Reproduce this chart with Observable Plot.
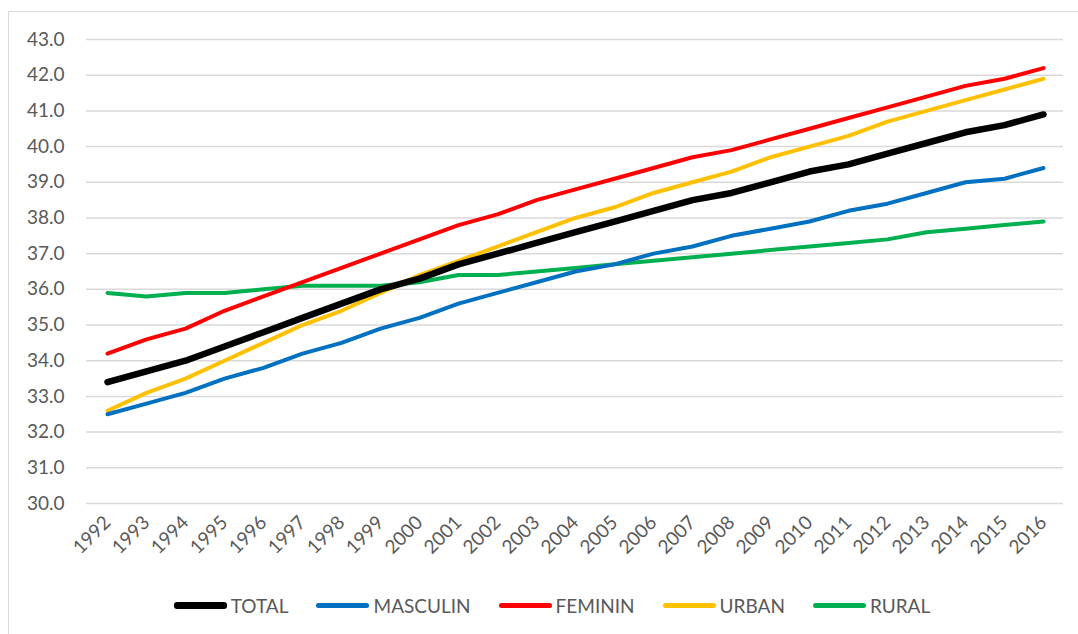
<!DOCTYPE html>
<html>
<head>
<meta charset="utf-8">
<script src="https://cdn.jsdelivr.net/npm/d3@7"></script>
<script src="https://cdn.jsdelivr.net/npm/@observablehq/plot@0.6"></script>
<style>
  html, body { margin: 0; padding: 0; background: #fff; }
  #wrap { position: relative; width: 1078px; height: 634px; overflow: hidden; font-family: Lato, "Open Sans", sans-serif; }
  #frame { position: absolute; left: 8px; top: 11px; width: 1200px; height: 800px; border-left: 1px solid #d9d9d9; border-top: 1px solid #d9d9d9; }
  #chart { position: absolute; left: 0; top: 0; }
  #legend { position: absolute; left: 26px; top: 593px; width: 1052px; height: 24px; display: flex; justify-content: center; align-items: center; font-size: 19px; color: #595959; }
  .item { display: flex; align-items: center; margin: 0 14px; }
  .sw { width: 53px; border-radius: 3px; margin-right: 4px; }
</style>
</head>
<body>
<div id="wrap">
  <div id="frame"></div>
  <div id="chart"></div>
  <div id="legend"></div>
</div>
<script>
const years = ["1992","1993","1994","1995","1996","1997","1998","1999","2000","2001","2002","2003","2004","2005","2006","2007","2008","2009","2010","2011","2012","2013","2014","2015","2016"];
const seriesNames = ["TOTAL","MASCULIN","FEMININ","URBAN","RURAL"];
const seriesColors = ["#000000","#0070c0","#ff0000","#ffc000","#00b050"];
const seriesWidths = [6.5, 4, 4, 4, 4];
const total    = [33.4,33.7,34.0,34.4,34.8,35.2,35.6,36.0,36.3,36.7,37.0,37.3,37.6,37.9,38.2,38.5,38.7,39.0,39.3,39.5,39.8,40.1,40.4,40.6,40.9];
const masculin = [32.5,32.8,33.1,33.5,33.8,34.2,34.5,34.9,35.2,35.6,35.9,36.2,36.5,36.7,37.0,37.2,37.5,37.7,37.9,38.2,38.4,38.7,39.0,39.1,39.4];
const feminin  = [34.2,34.6,34.9,35.4,35.8,36.2,36.6,37.0,37.4,37.8,38.1,38.5,38.8,39.1,39.4,39.7,39.9,40.2,40.5,40.8,41.1,41.4,41.7,41.9,42.2];
const urban    = [32.6,33.1,33.5,34.0,34.5,35.0,35.4,35.9,36.4,36.8,37.2,37.6,38.0,38.3,38.7,39.0,39.3,39.7,40.0,40.3,40.7,41.0,41.3,41.6,41.9];
const rural    = [35.9,35.8,35.9,35.9,36.0,36.1,36.1,36.1,36.2,36.4,36.4,36.5,36.6,36.7,36.8,36.9,37.0,37.1,37.2,37.3,37.4,37.6,37.7,37.8,37.9];
const yTicks = [30,31,32,33,34,35,36,37,38,39,40,41,42,43];

const seriesValues = [total, masculin, feminin, urban, rural];
const data = [];
seriesNames.forEach((s, i) => years.forEach((y, j) => data.push({series: s, year: y, value: seriesValues[i][j]})));

const lineMarks = seriesNames.slice().reverse().map((s) => {
  const i = seriesNames.indexOf(s);
  return Plot.line(data.filter(d => d.series === s), {
    x: "year", y: "value", stroke: seriesColors[i], strokeWidth: seriesWidths[i],
    strokeLinecap: "round", strokeLinejoin: "round"
  });
});

const chart = Plot.plot({
  width: 1078,
  height: 580,
  marginLeft: 86,
  marginRight: 15,
  marginTop: 39,
  marginBottom: 77,
  style: {fontFamily: "Lato, 'Open Sans', sans-serif", fontSize: "19px", color: "#595959", background: "transparent"},
  x: {type: "point", domain: years, padding: 0.5, label: null, tickRotate: -45, tickSize: 0, tickPadding: 16},
  y: {domain: [30, 43], ticks: yTicks, tickFormat: d => d.toFixed(1), label: null, tickSize: 0, tickPadding: 22},
  marks: [
    Plot.ruleY(yTicks, {stroke: "#d9d9d9", strokeWidth: 1.5}),
    ...lineMarks
  ]
});
document.getElementById("chart").appendChild(chart);

const legend = document.getElementById("legend");
seriesNames.forEach((s, i) => {
  const it = document.createElement("div");
  it.className = "item";
  const sw = document.createElement("div");
  sw.className = "sw";
  sw.style.background = seriesColors[i];
  sw.style.height = (i === 0 ? 7 : 5) + "px";
  it.appendChild(sw);
  const t = document.createElement("span");
  t.textContent = s;
  it.appendChild(t);
  legend.appendChild(it);
});
</script>
</body>
</html>
